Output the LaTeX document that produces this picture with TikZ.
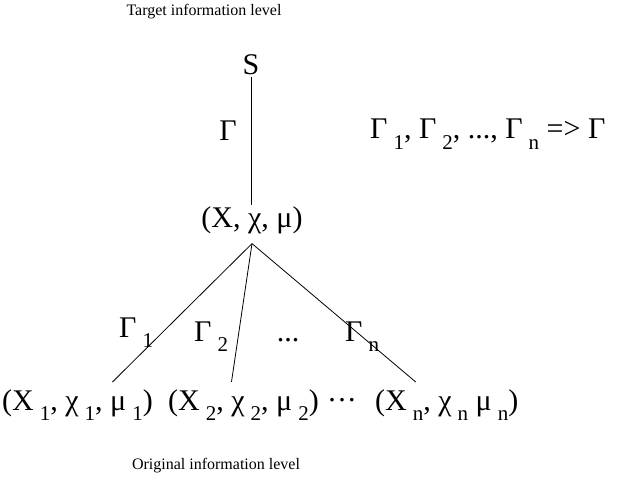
\documentclass[tikz,border=0pt]{standalone}
\usepackage{fontspec}
\setmainfont{Liberation Serif}
\usetikzlibrary{calc}
\newcommand{\lowsub}[1]{\kern0.2em\raisebox{-0.36em}{\fontsize{21}{21}\selectfont #1}}
\newcommand{\middots}{\raisebox{0.3em}{.\kern0.08em.\kern0.08em.}}
\tikzset{
  levellabel/.style={font=\fontsize{16}{18}\selectfont,inner sep=0pt},
  setnode/.style={font=\fontsize{30}{32}\selectfont,inner sep=2pt},
  maplabel/.style={font=\fontsize{30}{32}\selectfont,inner sep=0pt},
  link/.style={line width=0.8pt,black}
}
\begin{document}
\begin{tikzpicture}[x=1pt,y=-1pt]
  \useasboundingbox (0,0) rectangle (621,481);
  % level captions
  \node[levellabel] (target) at (204,12) {Target information level};
  \node[levellabel] (original) at (216,466) {Original information level};

  % target level
  \node[setnode] (s) at (251,65) {S};
  \node[setnode,anchor=base] (top) at (252,228) {(X, χ, μ)};
  \node[maplabel] (gamma) at (228,131) {Γ};
  \node[maplabel,anchor=base west] (rule) at (370,139) {Γ\lowsub{1}, Γ\lowsub{2}, ..., Γ\lowsub{n} => Γ};
  \draw[link] (s.south) -- (s.south |- top.north);

  % original level
  \node[setnode,anchor=base west] (b1) at (0,410) {(X\lowsub{1}, χ\lowsub{1}, μ\lowsub{1})};
  \node[setnode,anchor=base west] (b2) at (166,410) {(X\lowsub{2}, χ\lowsub{2}, μ\lowsub{2})};
  \node[setnode,anchor=base] (bdots) at (342,410) {\middots};
  \node[setnode,anchor=base west] (bn) at (373,410) {(X\lowsub{n}, χ\lowsub{n} μ\lowsub{n})};

  \node[maplabel,anchor=base west] (g1) at (119,337) {Γ\lowsub{1}};
  \node[maplabel,anchor=base west] (g2) at (194,341) {Γ\lowsub{2}};
  \node[maplabel,anchor=base] (gdots) at (288,341) {...};
  \node[maplabel,anchor=base west] (gn) at (345,341) {Γ\lowsub{n}};

  \draw[link] ($(top.south)+(0,7)$) -- ($(b1.north)+(35,-5)$);
  \draw[link] ($(top.south)+(0,7)$) -- ($(b2.north)+(-12,-5)$);
  \draw[link] ($(top.south)+(0,7)$) -- ($(bn.north)+(-31,-5)$);
\end{tikzpicture}
\end{document}
